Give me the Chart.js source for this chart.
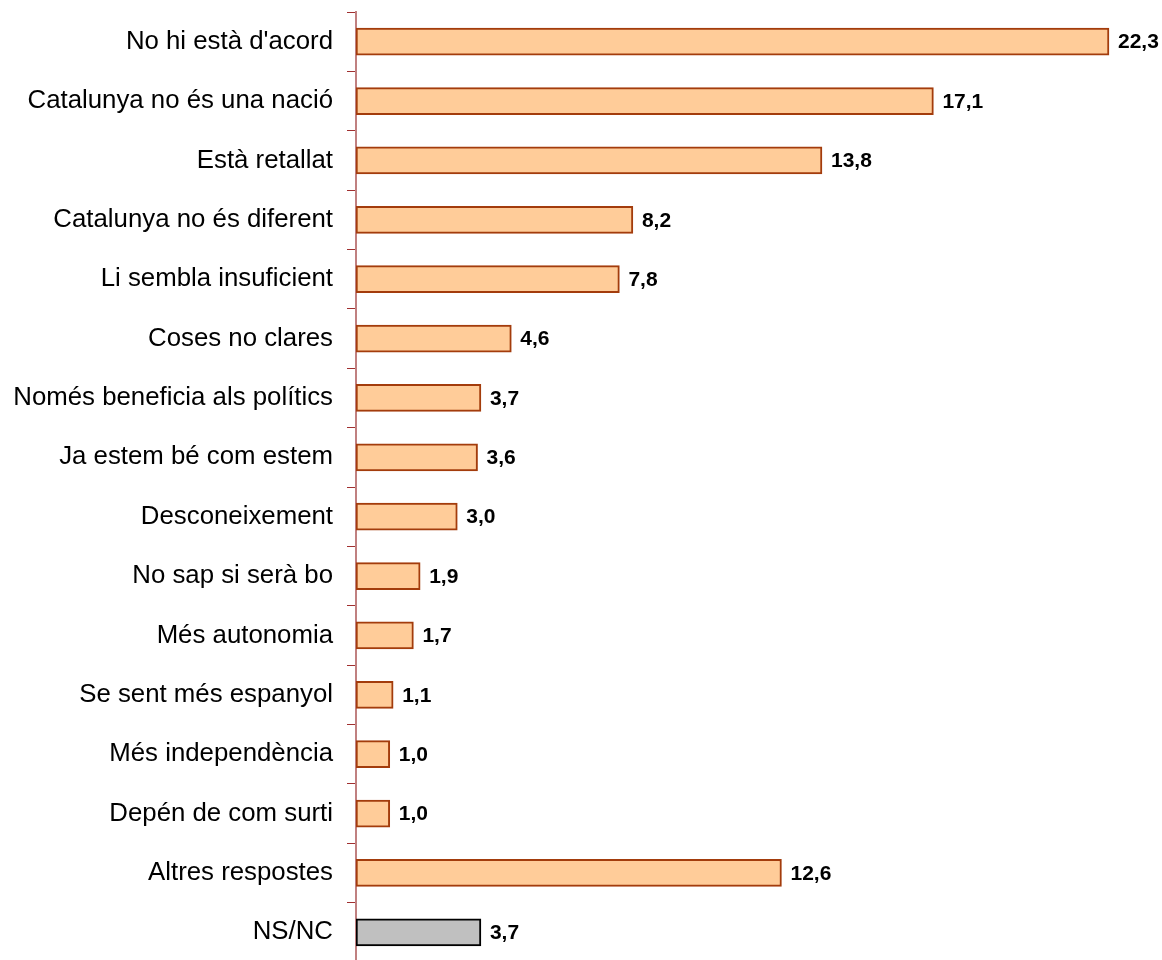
<!DOCTYPE html>
<html><head><meta charset="utf-8">
<script src="https://cdn.jsdelivr.net/npm/chart.js@4/dist/chart.umd.min.js"></script>
<style>html,body{margin:0;padding:0;background:#fff;overflow:hidden}#wrap{width:1162px;height:964px;position:relative}</style>
</head><body><div id="wrap"><canvas id="c"></canvas></div>
<script>
const categories = ["No hi està d'acord","Catalunya no és una nació","Està retallat","Catalunya no és diferent","Li sembla insuficient","Coses no clares","Només beneficia als polítics","Ja estem bé com estem","Desconeixement","No sap si serà bo","Més autonomia","Se sent més espanyol","Més independència","Depén de com surti","Altres respostes","NS/NC"];
const values = [22.3,17.1,13.8,8.2,7.8,4.6,3.7,3.6,3.0,1.9,1.7,1.1,1.0,1.0,12.6,3.7];
const fills = values.map((v,i)=> i===values.length-1 ? '#C0C0C0' : '#FFCC99');
const borders = values.map((v,i)=> i===values.length-1 ? '#000000' : '#A33C0C');

const labelPlugin = {
  id:'valLabels',
  afterDatasetsDraw(chart){
    const ctx = chart.ctx;
    const meta = chart.getDatasetMeta(0);
    ctx.save();
    ctx.font = 'bold 21px "Liberation Sans", Arial, sans-serif';
    ctx.fillStyle = '#000';
    ctx.textAlign = 'left';
    ctx.textBaseline = 'middle';
    meta.data.forEach((bar,i)=>{
      ctx.fillText(values[i].toFixed(1).replace('.',','), bar.x + 9, bar.y + 1);
    });
    ctx.restore();
  }
};

new Chart(document.getElementById('c'), {
  type:'bar',
  data:{labels:categories, datasets:[{data:values, backgroundColor:fills, borderColor:borders, borderWidth:2, borderSkipped:false, barThickness:27}]},
  options:{
    indexAxis:'y', responsive:true, maintainAspectRatio:false, animation:false,
    layout:{padding:{top:12,right:0,bottom:2,left:0}},
    plugins:{legend:{display:false}, tooltip:{enabled:false}},
    scales:{
      x:{display:false, min:0, max:23.87},
      y:{
        afterFit(s){ s.width = 356; s.paddingTop = 0; s.paddingBottom = 0; },
        grid:{drawOnChartArea:false, drawTicks:true, tickLength:9, color:'#A03030', offset:true},
        border:{display:true, color:'#C08080', width:2},
        ticks:{color:'#000', padding:14, font:{family:'"Liberation Sans", Arial, sans-serif', size:25.8}}
      }
    }
  },
  plugins:[labelPlugin]
});
</script></body></html>
